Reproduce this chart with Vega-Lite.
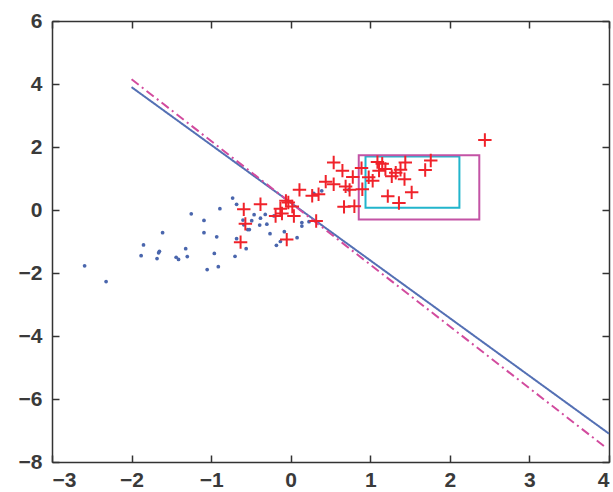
{
  "$schema": "https://vega.github.io/schema/vega-lite/v6.json",
  "width": 557,
  "height": 441,
  "autosize": "none",
  "padding": {"left": 52, "top": 21, "right": 4, "bottom": 30},
  "background": "white",
  "config": {
    "view": {"stroke": null},
    "axis": {
      "labelFont": "Liberation Sans",
      "labelFontSize": 21,
      "labelFontWeight": "bold",
      "labelColor": "#3a3a3a",
      "domainColor": "#333333",
      "domainWidth": 1.5,
      "tickColor": "#333333",
      "tickWidth": 1.5,
      "tickSize": -7,
      "grid": false,
      "title": null
    }
  },
  "datasets": {
    "blue": [
      {"x": -2.59, "y": -1.77}, {"x": -2.32, "y": -2.27}, {"x": -1.85, "y": -1.11}, {"x": -1.88, "y": -1.45},
      {"x": -1.61, "y": -0.72}, {"x": -1.65, "y": -1.31}, {"x": -1.66, "y": -1.36}, {"x": -1.68, "y": -1.54},
      {"x": -1.44, "y": -1.5}, {"x": -1.41, "y": -1.57}, {"x": -1.32, "y": -1.23}, {"x": -1.3, "y": -1.48},
      {"x": -0.73, "y": 0.38}, {"x": -0.68, "y": 0.18}, {"x": -0.89, "y": 0.04}, {"x": -1.25, "y": -0.12},
      {"x": -1.09, "y": -0.33}, {"x": -1.09, "y": -0.72}, {"x": -0.93, "y": -0.85}, {"x": -0.6, "y": -0.32},
      {"x": -0.59, "y": -0.47}, {"x": -0.54, "y": -0.62}, {"x": -0.68, "y": -0.91}, {"x": -0.56, "y": -1.23},
      {"x": -0.96, "y": -1.38}, {"x": -0.7, "y": -1.47}, {"x": -1.05, "y": -1.89}, {"x": -0.91, "y": -1.8},
      {"x": -0.46, "y": -0.15}, {"x": -0.38, "y": -0.26}, {"x": -0.32, "y": -0.14}, {"x": -0.49, "y": -0.34},
      {"x": -0.52, "y": -0.62}, {"x": -0.39, "y": -0.48}, {"x": -0.3, "y": -0.45}, {"x": -0.26, "y": -0.75},
      {"x": -0.13, "y": -1.0}, {"x": -0.08, "y": -0.69}, {"x": 0.08, "y": -0.88}, {"x": -0.21, "y": -0.19},
      {"x": 0.23, "y": -0.37}, {"x": 0.14, "y": -0.4}, {"x": -0.18, "y": -1.12}, {"x": 0.14, "y": -0.51},
      {"x": 0.29, "y": 0.53}, {"x": 0.39, "y": 0.61}, {"x": 0.73, "y": 0.64}
    ],
    "red": [
      {"x": 2.44, "y": 2.22}, {"x": 0.54, "y": 1.51}, {"x": 0.65, "y": 1.25}, {"x": 0.78, "y": 1.05},
      {"x": 0.89, "y": 1.33}, {"x": 0.98, "y": 1.04}, {"x": 1.03, "y": 0.93}, {"x": 1.09, "y": 1.52},
      {"x": 1.15, "y": 1.47}, {"x": 1.19, "y": 1.3}, {"x": 1.27, "y": 1.07}, {"x": 1.32, "y": 1.18},
      {"x": 1.38, "y": 1.28}, {"x": 1.44, "y": 1.51}, {"x": 1.43, "y": 0.98}, {"x": 1.76, "y": 1.57},
      {"x": 1.69, "y": 1.27}, {"x": 1.52, "y": 0.56}, {"x": 1.22, "y": 0.44}, {"x": 1.36, "y": 0.22},
      {"x": 0.9, "y": 0.66}, {"x": 0.67, "y": 0.1}, {"x": 0.8, "y": 0.12}, {"x": 0.74, "y": 0.64},
      {"x": 0.69, "y": 0.75}, {"x": 0.54, "y": 0.82}, {"x": 0.44, "y": 0.9}, {"x": 0.11, "y": 0.64},
      {"x": 0.27, "y": 0.45}, {"x": 0.35, "y": 0.5}, {"x": -0.03, "y": 0.24}, {"x": 0.02, "y": 0.11},
      {"x": -0.13, "y": 0.04}, {"x": -0.11, "y": -0.11}, {"x": -0.19, "y": -0.19}, {"x": 0.04, "y": -0.19},
      {"x": -0.38, "y": 0.18}, {"x": -0.59, "y": 0.02}, {"x": -0.57, "y": -0.44}, {"x": 0.32, "y": -0.35},
      {"x": -0.05, "y": -0.94}, {"x": -0.63, "y": -1.02}, {"x": -0.06, "y": 0.29}, {"x": 1.11, "y": 1.25}
    ],
    "lines": [
      {"x": -2.0, "y": 3.9, "series": "solid"}, {"x": 4.0, "y": -7.1, "series": "solid"},
      {"x": -2.0, "y": 4.15, "series": "dashdot"}, {"x": 3.97, "y": -7.56, "series": "dashdot"}
    ],
    "boxes": [
      {"x1": 0.94, "x2": 2.12, "y1": 0.07, "y2": 1.7, "box": "cyan"},
      {"x1": 0.855, "x2": 2.37, "y1": -0.3, "y2": 1.74, "box": "magenta"}
    ]
  },
  "layer": [
    {
      "data": {"name": "blue"},
      "mark": {"type": "point", "filled": true, "color": "#4a66ad", "size": 14, "opacity": 1},
      "encoding": {
        "x": {"field": "x", "type": "quantitative", "scale": {"domain": [-3, 4], "nice": false, "zero": false},
          "axis": {"orient": "bottom", "values": [-3, -2, -1, 0, 1, 2, 3, 4], "labelPadding": 14, "labelExpr": "replace(datum.label, '-', '\u2212')"}},
        "y": {"field": "y", "type": "quantitative", "scale": {"domain": [-8, 6], "nice": false, "zero": false},
          "axis": {"orient": "left", "values": [-8, -6, -4, -2, 0, 2, 4, 6], "labelPadding": 17, "labelExpr": "replace(datum.label, '-', '\u2212')"}}
      }
    },
    {
      "data": {"name": "blue"},
      "mark": {"type": "point", "opacity": 0},
      "encoding": {
        "x": {"field": "x", "type": "quantitative", "axis": {"orient": "top", "values": [-3, -2, -1, 0, 1, 2, 3, 4], "labels": false}},
        "y": {"field": "y", "type": "quantitative", "axis": {"orient": "right", "values": [-8, -6, -4, -2, 0, 2, 4, 6], "labels": false}}
      }
    },
    {
      "data": {"name": "boxes"},
      "mark": {"type": "rect", "fillOpacity": 0, "strokeWidth": 2},
      "encoding": {
        "x": {"field": "x1", "type": "quantitative", "axis": null},
        "x2": {"field": "x2"},
        "y": {"field": "y1", "type": "quantitative", "axis": null},
        "y2": {"field": "y2"},
        "stroke": {"field": "box", "type": "nominal", "scale": {"domain": ["cyan", "magenta"], "range": ["#22b5cc", "#c353a5"]}, "legend": null}
      }
    },
    {
      "data": {"name": "lines"},
      "mark": {"type": "line", "strokeWidth": 2},
      "encoding": {
        "x": {"field": "x", "type": "quantitative", "axis": null},
        "y": {"field": "y", "type": "quantitative", "axis": null},
        "detail": {"field": "series"},
        "color": {"field": "series", "type": "nominal", "scale": {"domain": ["solid", "dashdot"], "range": ["#5470b4", "#d24b9e"]}, "legend": null},
        "strokeDash": {"field": "series", "type": "nominal", "scale": {"domain": ["solid", "dashdot"], "range": [[1, 0], [9, 4, 2, 4]]}, "legend": null}
      }
    },
    {
      "data": {"name": "red"},
      "mark": {"type": "point", "shape": "M-1,0H1M0,-1V1", "filled": false, "stroke": "#f0222a", "strokeWidth": 2, "size": 180, "opacity": 1},
      "encoding": {
        "x": {"field": "x", "type": "quantitative", "axis": null},
        "y": {"field": "y", "type": "quantitative", "axis": null}
      }
    }
  ],
  "resolve": {"axis": {"x": "independent", "y": "independent"}}
}
